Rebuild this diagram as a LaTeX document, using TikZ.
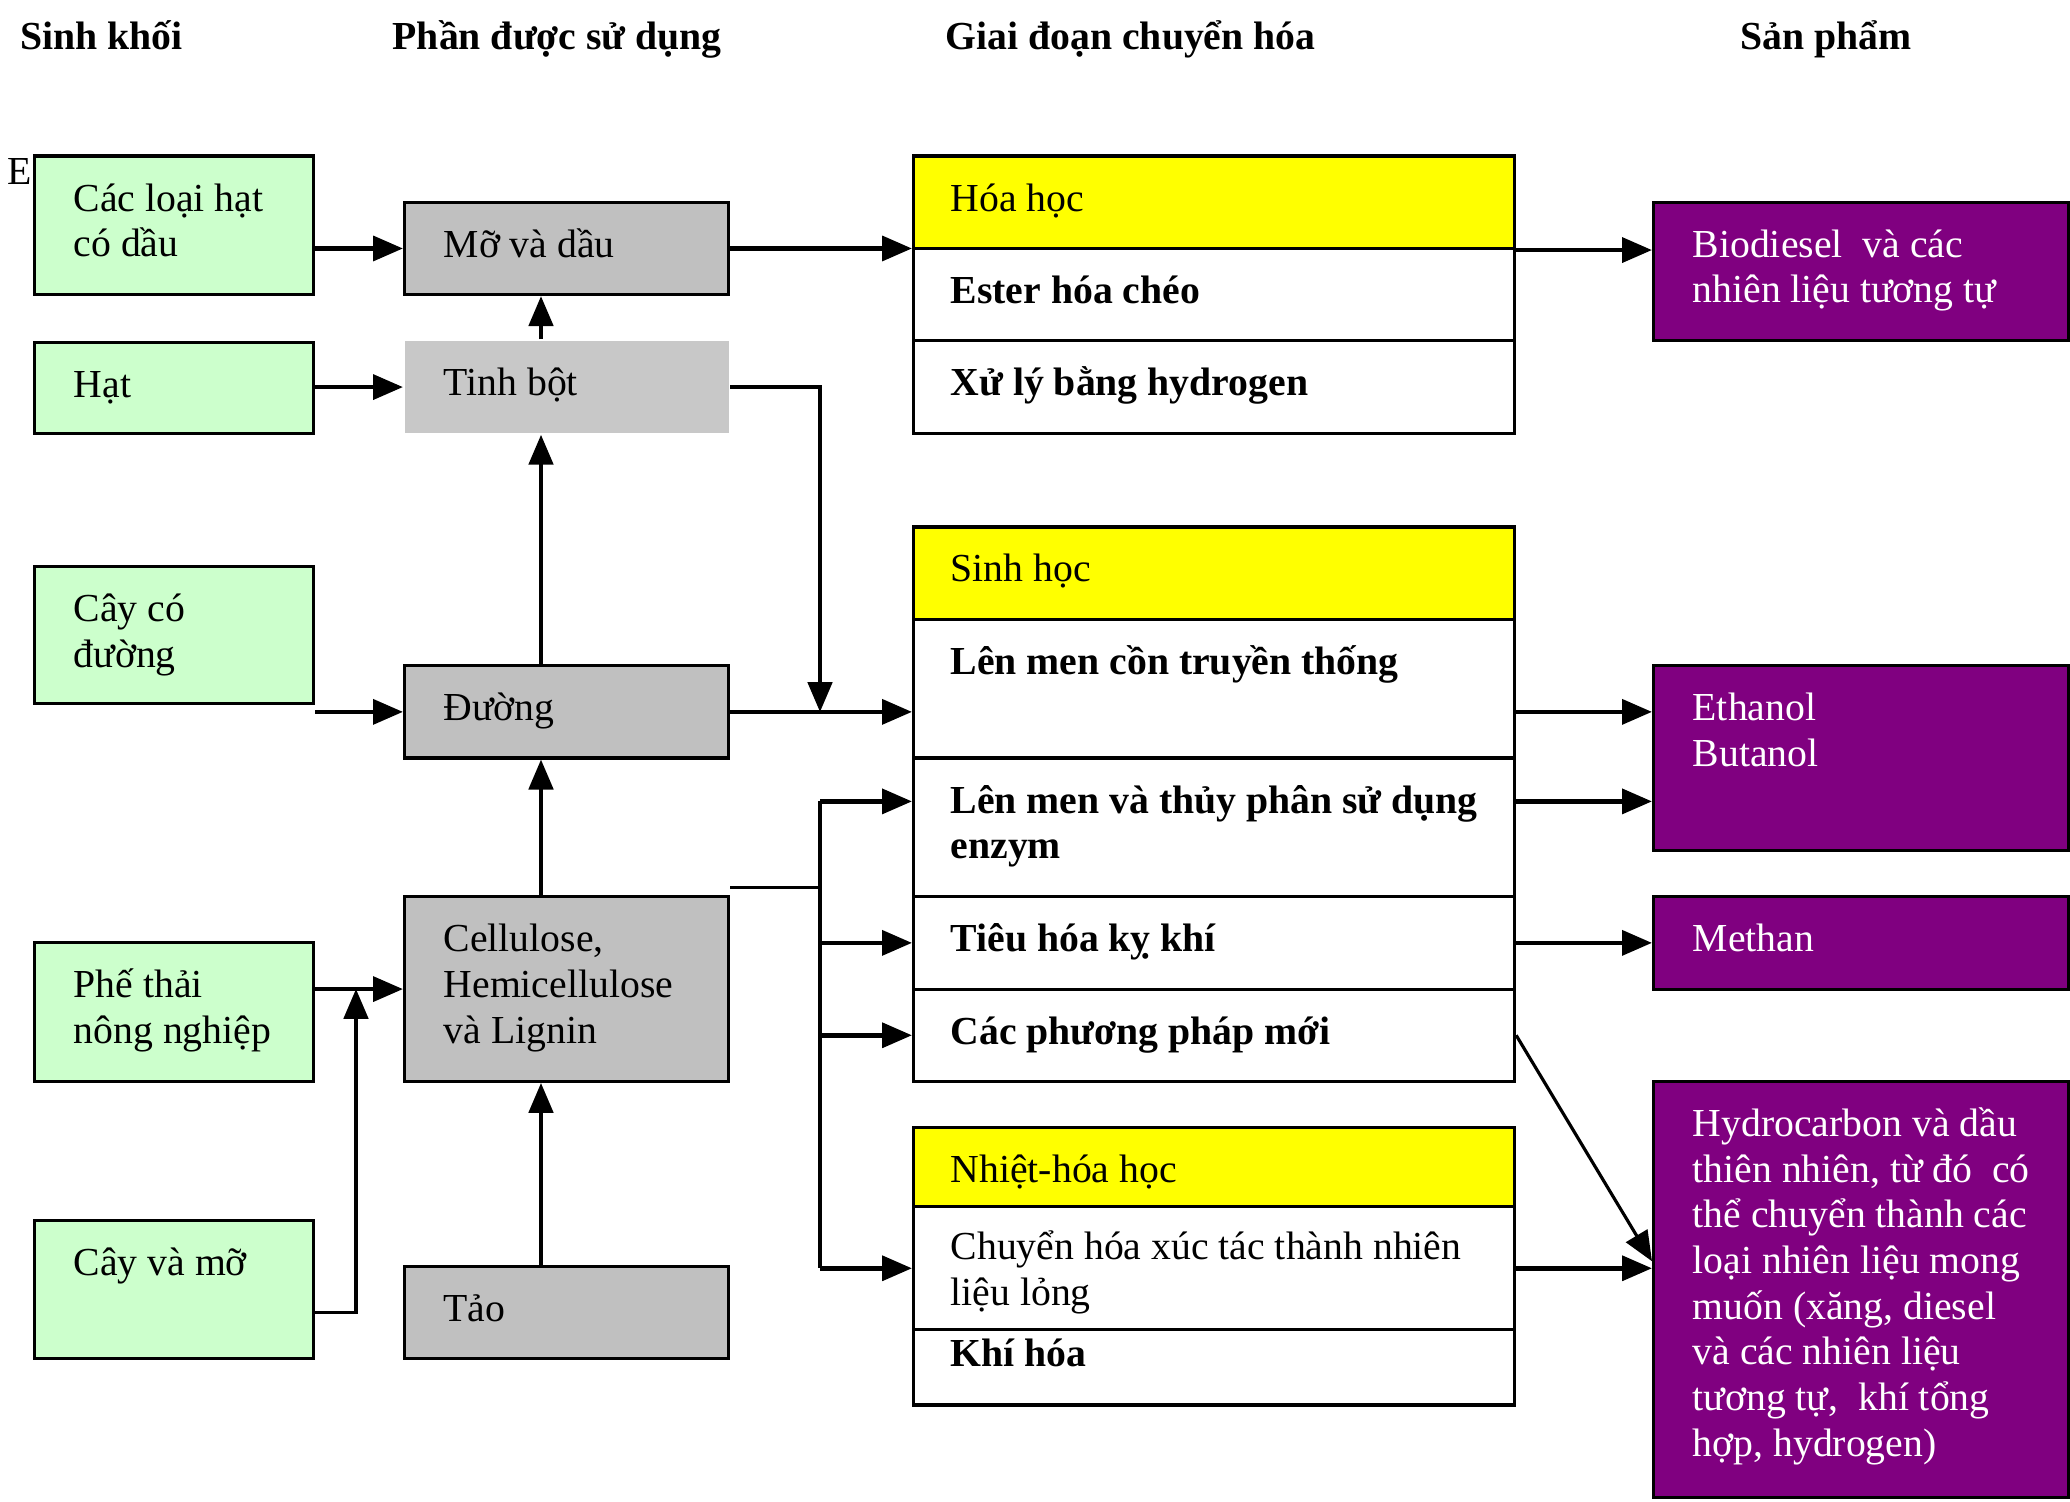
\documentclass[tikz,border=0pt]{standalone}
\usepackage{fontspec}
\setmainfont{Liberation Serif}
\usetikzlibrary{arrows.meta,calc}

\definecolor{xanhnhat}{HTML}{CCFFCC}
\definecolor{xam}{HTML}{C0C0C0}
\definecolor{xamnhat}{HTML}{C8C8C8}
\definecolor{vang}{HTML}{FFFF00}
\definecolor{tim}{HTML}{800080}
\newcommand{\dau}{\rule{0pt}{12pt}}

\begin{document}
\begin{tikzpicture}[font=\fontsize{11.3}{13}\selectfont,
  hop/.style={draw=black, line width=0.9pt, anchor=north west, inner sep=0pt},
  sk/.style={hop, fill=xanhnhat, minimum width=2.79cm},
  pd/.style={hop, fill=xam, minimum width=3.24cm},
  gd/.style={hop, fill=white, minimum width=6.01cm},
  gdv/.style={gd, fill=vang},
  sp/.style={hop, fill=tim, minimum width=4.15cm},
  td/.style={anchor=base west, inner sep=0pt, font=\fontsize{11.3}{13}\selectfont\bfseries},
  chu/.style={anchor=north west, inner sep=0pt, align=left},
  chud/.style={chu, font=\fontsize{11.3}{13}\selectfont\bfseries},
  chusp/.style={chu, text=white},
  mui/.style={-{Triangle[length=8.5pt,width=7pt]}, line width=1.3pt},
  mui2/.style={-{Triangle[length=8.5pt,width=7pt]}, line width=0.9pt},
  noi/.style={line width=0.9pt}]
\useasboundingbox (0,0) rectangle (20.70,-15.02);

\node[td] (h1) at (0.198,-0.50) {Sinh khối};
\node[td] (h2) at (3.92,-0.50) {Phần được sử dụng};
\node[td] (h3) at (9.45,-0.50) {Giai đoạn chuyển hóa};
\node[td] (h4) at (17.40,-0.50) {Sản phẩm};

\node[anchor=base west, inner sep=0pt] (e) at (0.07,-1.85) {E};

\node[sk, minimum height=1.386cm] (g1) at (0.33,-1.545) {};
\node[sk, minimum height=0.911cm] (g2) at (0.33,-3.406) {};
\node[sk, minimum height=1.373cm] (g3) at (0.33,-5.650) {};
\node[sk, minimum height=1.386cm] (g4) at (0.33,-9.413) {};
\node[sk, minimum height=1.387cm] (g5) at (0.33,-12.185) {};
\node[chu] (g1t) at ($(g1.north west)+(0.4,-0.137)$) {\dau Các loại hạt\\có dầu};
\node[chu] (g2t) at ($(g2.north west)+(0.4,-0.137)$) {\dau Hạt};
\node[chu] (g3t) at ($(g3.north west)+(0.4,-0.137)$) {\dau Cây có\\đường};
\node[chu] (g4t) at ($(g4.north west)+(0.4,-0.137)$) {\dau Phế thải\\nông nghiệp};
\node[chu] (g5t) at ($(g5.north west)+(0.4,-0.137)$) {\dau Cây và mỡ};

\node[pd, minimum height=0.924cm] (mo) at (4.03,-2.007) {};
\node[pd, draw=none, fill=xamnhat, minimum height=0.924cm] (tinh) at (4.03,-3.393) {};
\node[pd, minimum height=0.924cm] (duong) at (4.03,-6.641) {};
\node[pd, minimum height=1.848cm] (cell) at (4.03,-8.951) {};
\node[pd, minimum height=0.924cm] (tao) at (4.03,-12.648) {};
\node[chu] (mot) at ($(mo.north west)+(0.4,-0.137)$) {\dau Mỡ và dầu};
\node[chu] (tinht) at ($(tinh.north west)+(0.4,-0.137)$) {\dau Tinh bột};
\node[chu] (duongt) at ($(duong.north west)+(0.4,-0.137)$) {\dau Đường};
\node[chu] (cellt) at ($(cell.north west)+(0.4,-0.137)$) {\dau Cellulose,\\Hemicellulose\\và Lignin};
\node[chu] (taot) at ($(tao.north west)+(0.4,-0.137)$) {\dau Tảo};

\node[gdv, minimum height=0.924cm] (hoa) at (9.12,-1.545) {};
\node[gd, minimum height=0.924cm] (ester) at (9.12,-2.469) {};
\node[gd, minimum height=0.924cm] (xuly) at (9.12,-3.393) {};
\node[gdv, minimum height=0.925cm] (sinh) at (9.12,-5.254) {};
\node[gd, minimum height=1.386cm] (lmc) at (9.12,-6.179) {};
\node[gd, minimum height=1.386cm] (lmt) at (9.12,-7.565) {};
\node[gd, minimum height=0.924cm] (tieu) at (9.12,-8.951) {};
\node[gd, minimum height=0.924cm] (moi) at (9.12,-9.875) {};
\node[gdv, minimum height=0.792cm] (nhiet) at (9.12,-11.261) {};
\node[gd, minimum height=1.228cm] (xuctac) at (9.12,-12.053) {};
\node[gd, minimum height=0.753cm] (khi) at (9.12,-13.281) {};
\node[chu] (hoat) at ($(hoa.north west)+(0.38,-0.137)$) {\dau Hóa học};
\node[chud] (estert) at ($(ester.north west)+(0.38,-0.137)$) {\dau Ester hóa chéo};
\node[chud] (xulyt) at ($(xuly.north west)+(0.38,-0.137)$) {\dau Xử lý bằng hydrogen};
\node[chu] (sinht) at ($(sinh.north west)+(0.38,-0.137)$) {\dau Sinh học};
\node[chud] (lmct) at ($(lmc.north west)+(0.38,-0.137)$) {\dau Lên men cồn truyền thống};
\node[chud] (lmtt) at ($(lmt.north west)+(0.38,-0.137)$) {\dau Lên men và thủy phân sử dụng\\enzym};
\node[chud] (tieut) at ($(tieu.north west)+(0.38,-0.137)$) {\dau Tiêu hóa kỵ khí};
\node[chud] (moit) at ($(moi.north west)+(0.38,-0.137)$) {\dau Các phương pháp mới};
\node[chu] (nhiett) at ($(nhiet.north west)+(0.38,-0.137)$) {\dau Nhiệt-hóa học};
\node[chu] (xuctact) at ($(xuctac.north west)+(0.38,-0.117)$) {\dau Chuyển hóa xúc tác thành nhiên\\liệu lỏng};
\node[chud] (khit) at ($(khi.north west)+(0.38,0.043)$) {\dau Khí hóa};

\node[sp, minimum height=1.386cm] (bio) at (16.52,-2.007) {};
\node[sp, minimum height=1.848cm] (eth) at (16.52,-6.641) {};
\node[sp, minimum height=0.924cm] (meth) at (16.52,-8.951) {};
\node[sp, minimum height=4.159cm] (hydro) at (16.52,-10.799) {};
\node[chusp] (biot) at ($(bio.north west)+(0.4,-0.137)$) {\dau Biodiesel\ \ và các\\nhiên liệu tương tự};
\node[chusp] (etht) at ($(eth.north west)+(0.4,-0.137)$) {\dau Ethanol\\Butanol};
\node[chusp] (metht) at ($(meth.north west)+(0.4,-0.137)$) {\dau Methan};
\node[chusp] (hydrot) at ($(hydro.north west)+(0.4,-0.137)$) {\dau Hydrocarbon và dầu\\thiên nhiên, từ đó\ \ có\\thể chuyển thành các\\loại nhiên liệu mong\\muốn (xăng, diesel\\và các nhiên liệu\\tương tự,\ \ khí tổng\\hợp, hydrogen)};

\coordinate (re) at (8.20,-8.014);

\draw[mui] (g1.east |- mo.west) -- (mo.west);
\draw[mui] (mo.east) -- (mo.east -| hoa.west);
\draw[mui] (hoa.south east) -- (hoa.south east -| bio.west);
\draw[mui] (g2.east |- tinh.west) -- (tinh.west);
\draw[mui2] ([xshift=1.38cm]tinh.north west) -- ([xshift=1.38cm]mo.south west);
\draw[mui2] ([xshift=1.38cm]duong.north west) -- ([xshift=1.38cm]tinh.south west);
\draw[mui2] ([xshift=1.38cm]cell.north west) -- ([xshift=1.38cm]duong.south west);
\draw[mui2] ([xshift=1.38cm]tao.north west) -- ([xshift=1.38cm]cell.south west);
\draw[mui2] (tinh.east) -| (re |- duong.east);
\draw[mui] (g3.east |- duong.west) -- (duong.west);
\draw[mui] (duong.east) -- (duong.east -| lmc.west);
\draw[noi] ([yshift=0.08cm]cell.north east) -- ([yshift=0.08cm]cell.north east -| re);
\draw[noi] (re) -- (re |- xuctac.west);
\draw[mui] (re) -- (re -| lmt.west);
\draw[mui] (re |- tieu.west) -- (tieu.west);
\draw[mui] (re |- moi.west) -- (moi.west);
\draw[mui] (re |- xuctac.west) -- (xuctac.west);
\draw[mui] (g4.east |- cell.west) -- (cell.west);
\draw[mui2] (g5.east |- tao.west) -| ([xshift=-0.47cm]cell.west);
\draw[mui] (duong.east -| lmc.east) -- (duong.east -| eth.west);
\draw[mui] (re -| lmt.east) -- (re -| eth.west);
\draw[mui] (tieu.east) -- (meth.west);
\draw[mui2] (moi.east) -- ([yshift=0.07cm]xuctac.east -| hydro.west);
\draw[mui] (xuctac.east) -- (xuctac.east -| hydro.west);
\end{tikzpicture}
\end{document}
